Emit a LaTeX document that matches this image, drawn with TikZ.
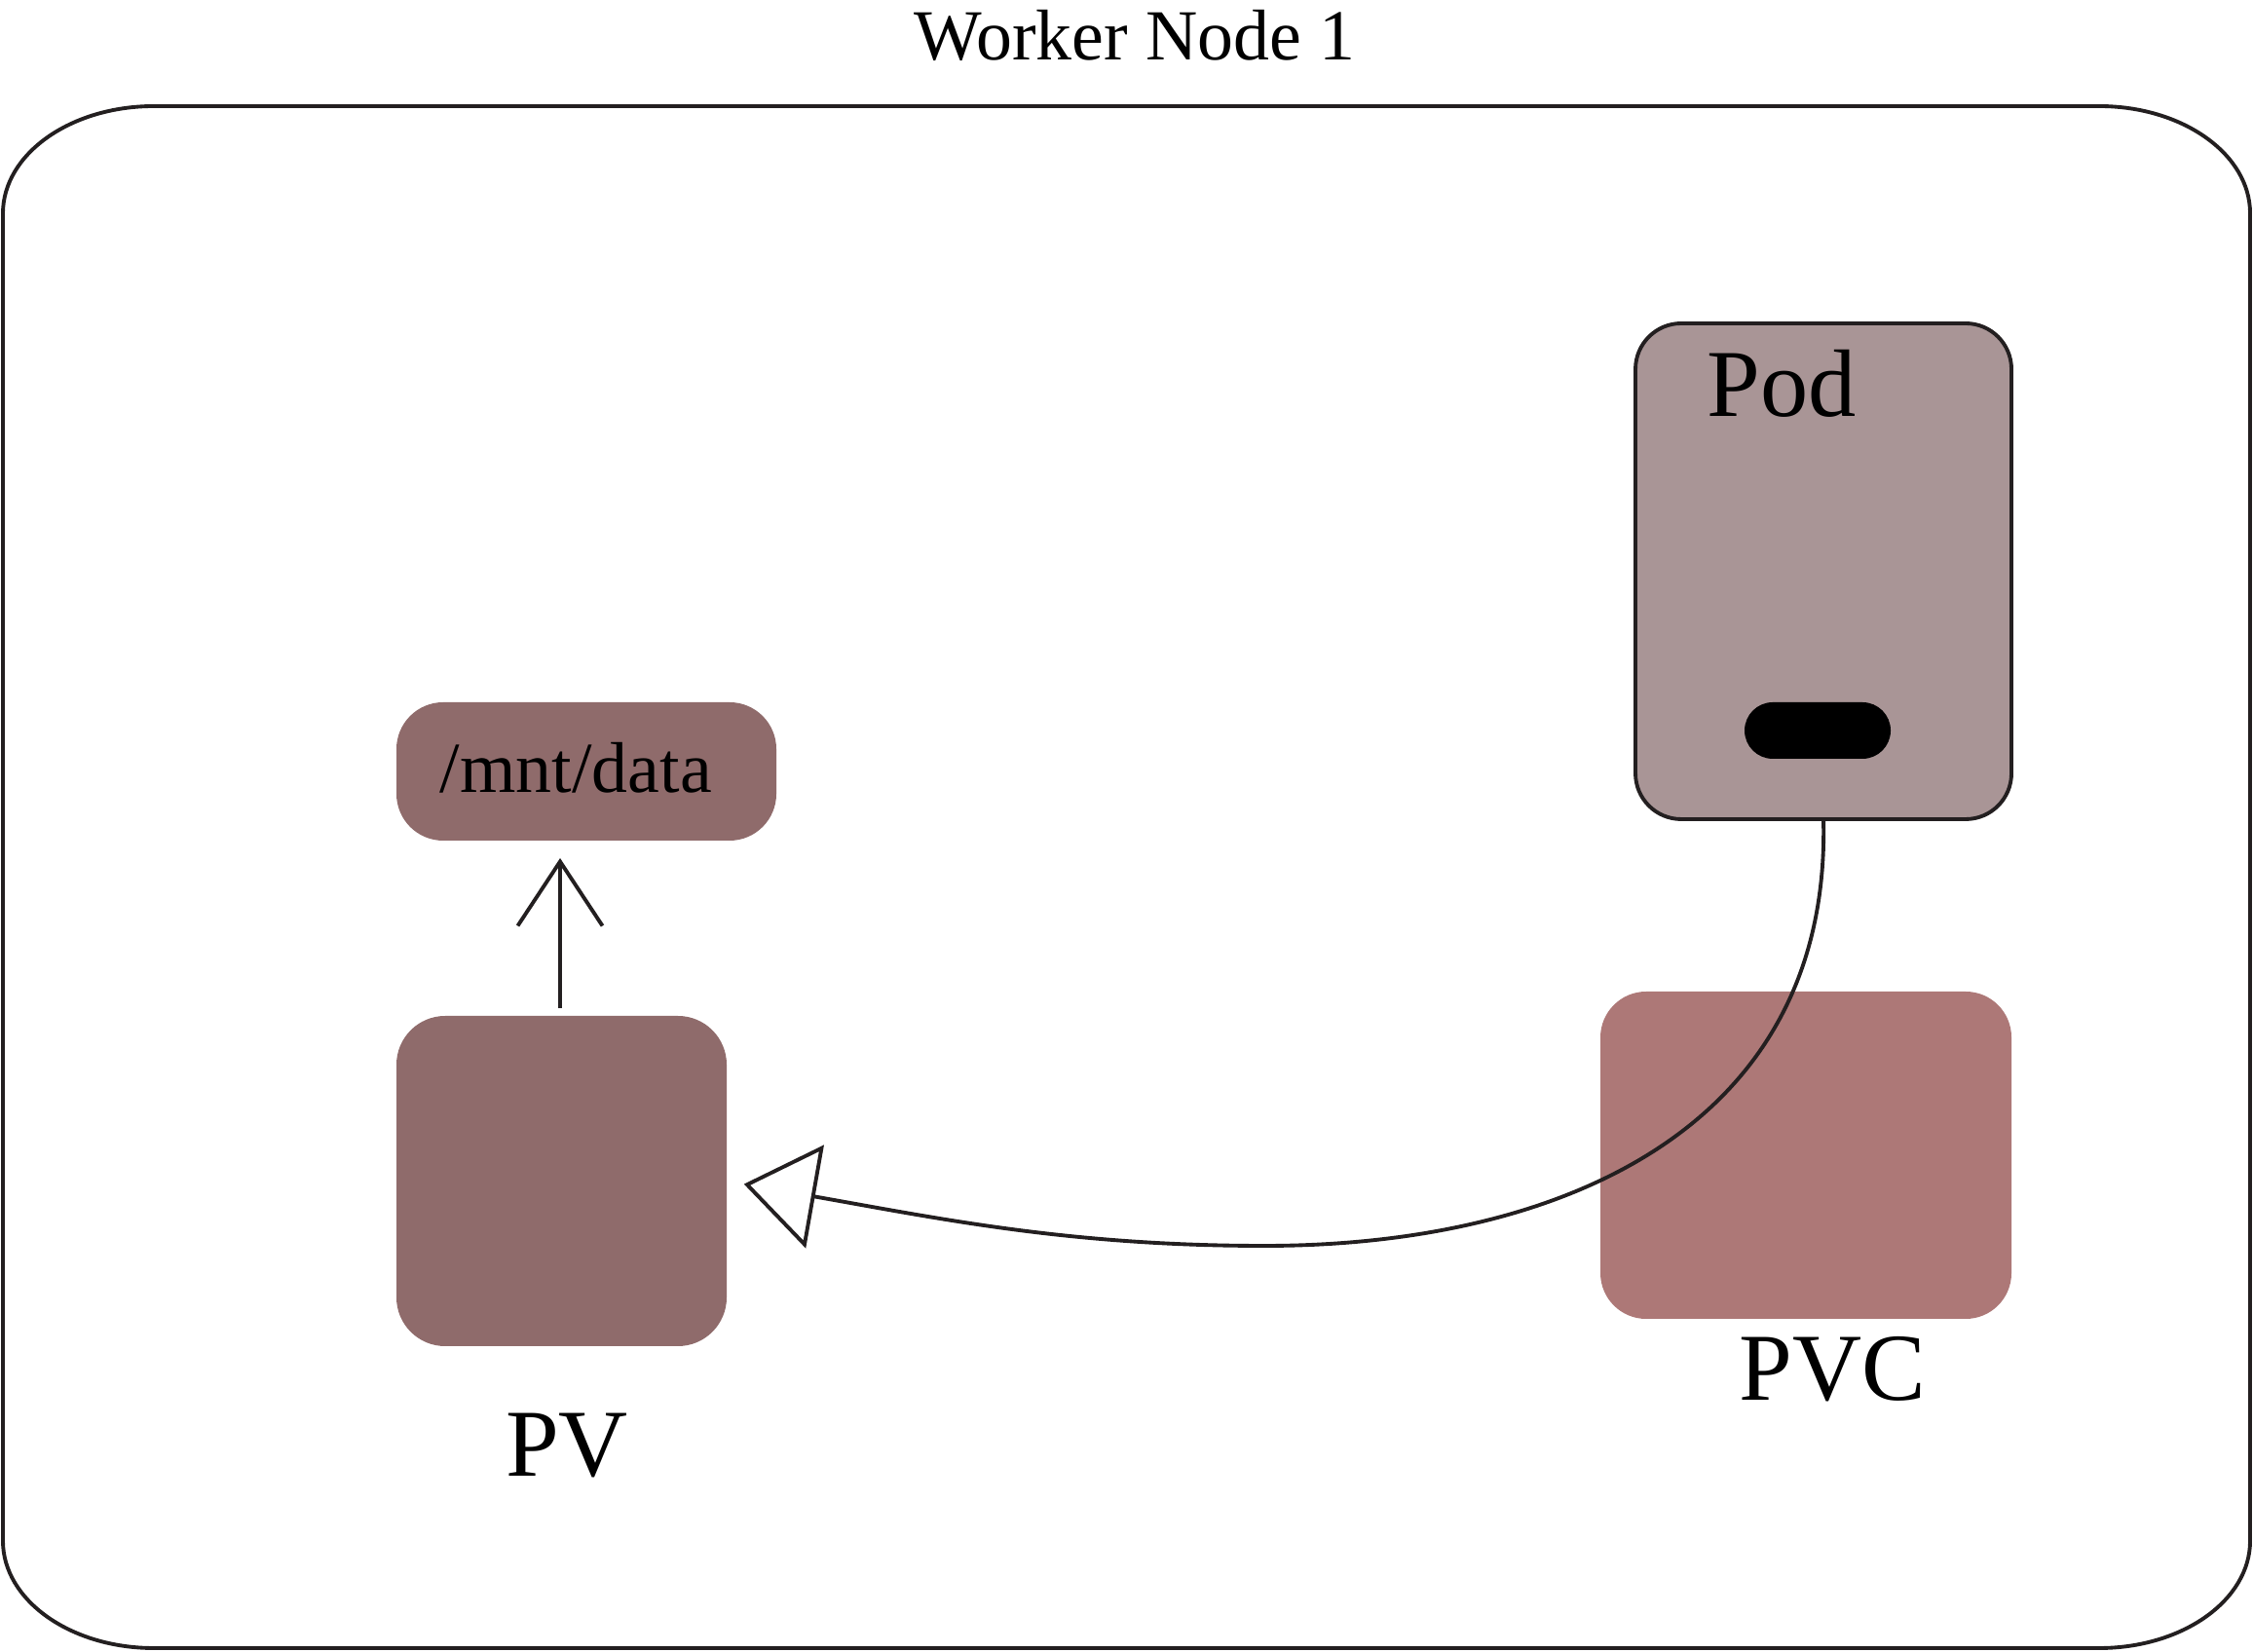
\documentclass[tikz,border=0pt]{standalone}
\usepackage{fontspec}
\setmainfont{Liberation Serif}
\usetikzlibrary{arrows.meta}
\definecolor{podfill}{RGB}{169,149,150}
\definecolor{pvfill}{RGB}{143,107,107}
\definecolor{pvcfill}{RGB}{173,120,119}
\definecolor{edge}{RGB}{35,31,32}

\begin{document}
\begin{tikzpicture}[line width=1.1pt, draw=edge,
    box/.style = {inner sep=0pt, outer sep=0pt},
    big/.style = {font=\fontsize{28}{32}\selectfont, inner sep=0pt},
    small/.style = {font=\fontsize{21}{25}\selectfont, inner sep=0pt}]
    \useasboundingbox (0,0) rectangle (23.13,16.95);
    % worker node frame
    \draw[edge] (0.03,1.13) -- (0.03,14.76)
        arc[start angle=180, end angle=90, x radius=1.55, y radius=1.10] -- (21.55,15.86)
        arc[start angle=90, end angle=0, x radius=1.55, y radius=1.10] -- (23.10,1.13)
        arc[start angle=0, end angle=-90, x radius=1.55, y radius=1.10] -- (1.58,0.03)
        arc[start angle=270, end angle=180, x radius=1.55, y radius=1.10] -- cycle;
    \node[small, anchor=base] (title) at (11.65,16.33) {Worker Node 1};
    % pod
    \node[box, draw=edge, fill=podfill, rounded corners=0.47cm,
        minimum width=3.86cm, minimum height=5.09cm] (pod) at (18.72,11.085) {};
    \node[big, anchor=base west] (podlabel) at (17.51,12.67) {Pod};
    \node[box, fill=black, rounded corners=0.29cm,
        minimum width=1.50cm, minimum height=0.58cm] (mount) at (18.66,9.45) {};
    % volumes
    \node[box, fill=pvcfill, rounded corners=0.47cm,
        minimum width=4.22cm, minimum height=3.36cm] (pvc) at (18.54,5.09) {};
    \node[big, anchor=base] (pvclabel) at (18.81,2.57) {PVC};
    \node[box, fill=pvfill, rounded corners=0.50cm,
        minimum width=3.39cm, minimum height=3.39cm] (pv) at (5.765,4.825) {};
    \node[big, anchor=base] (pvlabel) at (5.82,1.79) {PV};
    \node[box, fill=pvfill, rounded corners=0.48cm,
        minimum width=3.90cm, minimum height=1.42cm] (mnt) at (6.02,9.03) {};
    \node[small, anchor=base west] (mntlabel) at (4.50,8.81) {/mnt/data};
    % connectors
    \draw[edge, -{Straight Barb[length=6.6mm, width=8.7mm]}, shorten <=0.8mm, shorten >=1.8mm]
        (pv.north -| 5.75,0) -- (mnt.south -| 5.75,0);
    \draw[edge, -{Triangle[open, length=7.4mm, width=10.7mm]}, shorten >=1.8mm]
        (pod.south) .. controls (18.8,5.34) and (15.98,4.16) .. (12.98,4.16)
        .. controls (10.98,4.16) and (9.64,4.44) .. (pv.east);
\end{tikzpicture}
\end{document}
